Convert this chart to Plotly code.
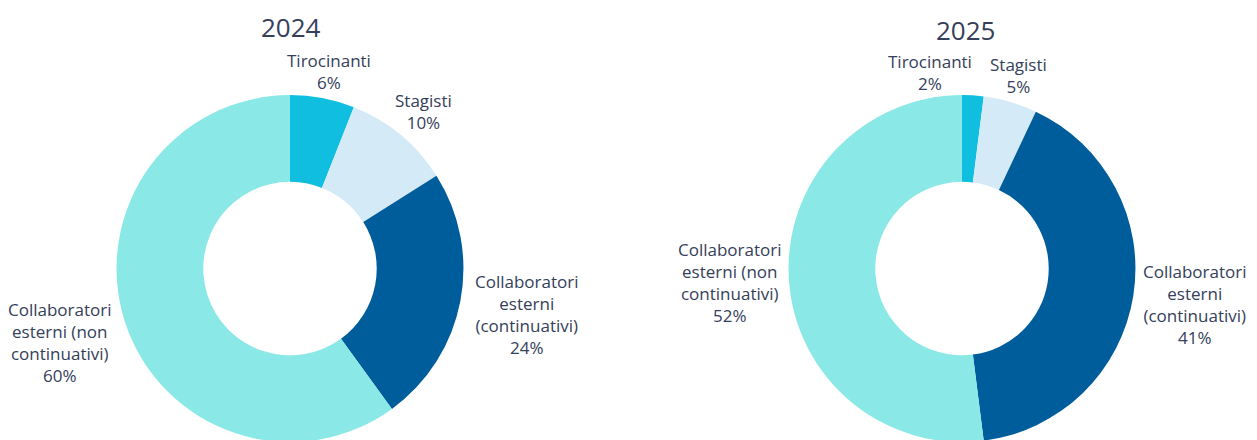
import plotly.graph_objects as go

# ---- data ----
categories = ["Tirocinanti", "Stagisti",
              "Collaboratori esterni (continuativi)",
              "Collaboratori esterni (non continuativi)"]
label_lines = ["Tirocinanti", "Stagisti",
               "Collaboratori<br>esterni<br>(continuativi)",
               "Collaboratori<br>esterni (non<br>continuativi)"]
values_2024 = [6, 10, 24, 60]
values_2025 = [2, 5, 41, 52]
years = ["2024", "2025"]

# ---- styles / layout constants ----
colors = ["#10BFDF", "#D4EAF6", "#005D9C", "#8AE8E6"]
text_color = "#34405A"
W, H = 1257, 440
OFF = 8  # page body margin offset
font_family = "Open Sans"

# label centre positions in reference pixels (x, y) per chart
label_pos = [
    [(329, 71), (423, 111), (527, 314), (60, 342)],
    [(930, 73), (1018, 75), (1195, 304), (730, 282)],
]
# title top-edge positions in reference pixels
title_pos = [(291, 8), (966, 11)]
pie_centers_x = [290, 962]


def px_x(x):
    return (x - OFF) / W


def px_y(y):
    return 1 - (y - OFF) / H


fig = go.Figure()
for i, vals in enumerate([values_2024, values_2025]):
    cx = px_x(pie_centers_x[i])
    fig.add_trace(go.Pie(
        labels=categories,
        values=vals,
        hole=0.5,
        sort=False,
        direction="clockwise",
        rotation=0,
        marker=dict(colors=colors, line=dict(width=0)),
        textinfo="none",
        hoverinfo="label+percent",
        domain=dict(x=[cx - 0.2, cx + 0.2], y=[0.0136, 0.802]),
        showlegend=False,
    ))

annotations = []
for i, vals in enumerate([values_2024, values_2025]):
    tx, ty = title_pos[i]
    annotations.append(dict(
        text=years[i], x=px_x(tx), y=min(1.0, px_y(ty)), xref="paper", yref="paper",
        xanchor="center", yanchor="top", showarrow=False, borderpad=0,
        font=dict(size=26, color=text_color, family=font_family)))
    for j, v in enumerate(vals):
        px, py = label_pos[i][j]
        annotations.append(dict(
            text=f"{label_lines[j]}<br>{v}%", x=px_x(px), y=px_y(py),
            xref="paper", yref="paper", xanchor="center", yanchor="middle",
            align="center", showarrow=False,
            font=dict(size=17, color=text_color, family=font_family)))

fig.update_layout(
    width=W, height=H,
    margin=dict(l=0, r=0, t=0, b=0),
    paper_bgcolor="white", plot_bgcolor="white",
    annotations=annotations,
)

fig.write_html("out.html")
